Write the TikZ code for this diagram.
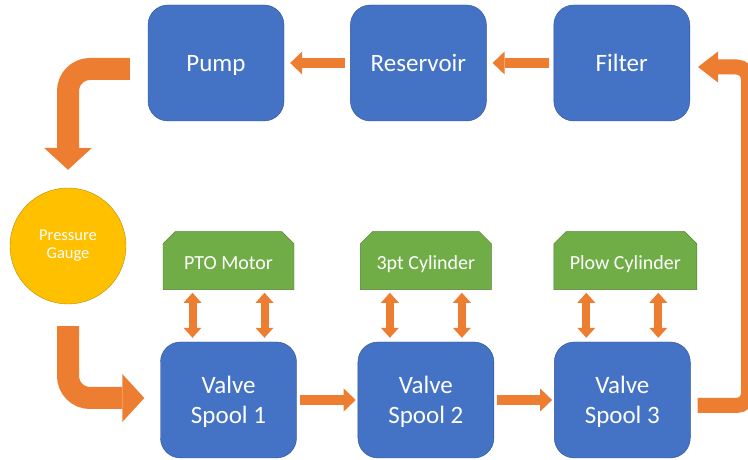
\documentclass[tikz,border=0pt]{standalone}
\usepackage{fontspec}
\setmainfont{Carlito}
\usetikzlibrary{positioning,shapes.misc,arrows.meta}
\definecolor{boxblue}{HTML}{4472C4}
\definecolor{boxblueline}{HTML}{2F528F}
\definecolor{pipeorange}{HTML}{ED7D31}
\definecolor{loadgreen}{HTML}{70AD47}
\definecolor{loadgreenline}{HTML}{507E32}
\definecolor{gaugegold}{HTML}{FFC000}
\definecolor{gaugegoldline}{HTML}{BC8C00}

\begin{document}
\begin{tikzpicture}[x=1pt, y=1pt,
        unit/.style={draw=boxblueline, fill=boxblue, rounded corners=20pt, minimum width=136pt, minimum height=116pt, text=white, align=center, text depth=0pt, font=\fontsize{25}{30}\selectfont},
        load/.style={chamfered rectangle, chamfered rectangle corners={north west,north east}, chamfered rectangle xsep=9pt, draw=loadgreenline, fill=loadgreen, minimum width=131pt, minimum height=58pt, text=white, text height=18pt, text depth=0pt, font=\fontsize{20}{24}\selectfont},
        gauge/.style={circle, draw=gaugegoldline, fill=gaugegold, minimum size=116pt, text=white, align=center, font=\fontsize{16.5}{18}\selectfont},
        flowpipe/.style={draw=pipeorange, line width=10pt, -{Triangle[width=23pt,length=12pt,line width=0pt]}},
        bentpipe/.style={draw=pipeorange, line width=22pt, rounded corners=22pt, -{Triangle[width=48pt,length=22pt,line width=0pt]}},
        returnpipe/.style={draw=pipeorange, line width=15pt, rounded corners=12pt, -{Triangle[width=31pt,length=20pt,line width=0pt]}},
        linkpipe/.style={draw=pipeorange, line width=8pt, {Triangle[width=18pt,length=10pt,line width=0pt]}-{Triangle[width=18pt,length=10pt,line width=0pt]}, shorten <=4pt, shorten >=3pt}]
        \useasboundingbox (0,0) rectangle (748,460);

        \node[unit] (pump) at (216,397) {Pump};
        \node[unit, right=66pt of pump] (reservoir) {Reservoir};
        \node[unit, right=67pt of reservoir] (filter) {Filter};

        \node[gauge] (gauge) at (68,214) {Pressure\\Gauge};

        \node[unit] (vs1) at (228.5,60) {Valve\\Spool 1};
        \node[unit, right=61pt of vs1] (vs2) {Valve\\Spool 2};
        \node[unit, right=60pt of vs2] (vs3) {Valve\\Spool 3};

        \node[load, above=52pt of vs1] (pto) {PTO Motor};
        \node[load, above=52pt of vs2] (cyl) {3pt Cylinder};
        \node[load, minimum width=143pt, above=52pt of vs3, xshift=3pt] (plow) {Plow Cylinder};

        \draw[flowpipe, shorten <=5pt, shorten >=6pt] (reservoir) -- (pump);
        \draw[flowpipe, shorten <=5pt, shorten >=6pt] (filter) -- (reservoir);
        \draw[flowpipe, shorten <=3pt, shorten >=2pt] (vs1) -- (vs2);
        \draw[flowpipe, shorten <=3pt, shorten >=2pt] (vs2) -- (vs3);

        \draw[bentpipe] ([xshift=-18pt,yshift=-6pt]pump.west) -| ([yshift=18pt]gauge.north);
        \draw[bentpipe] ([yshift=-22pt]gauge.south) |- ([xshift=-16pt,yshift=2pt]vs1.west);
        \draw[returnpipe] ([xshift=7pt,yshift=-5.5pt]vs3.east) -- ++(51,0) |- ([xshift=8pt,yshift=-4pt]filter.east);

        \draw[linkpipe] ([xshift=-36pt]vs1.north) -- ([xshift=-36pt]vs1.north |- pto.south);
        \draw[linkpipe] ([xshift=36pt]vs1.north) -- ([xshift=36pt]vs1.north |- pto.south);
        \draw[linkpipe] ([xshift=-36pt]vs2.north) -- ([xshift=-36pt]vs2.north |- cyl.south);
        \draw[linkpipe] ([xshift=36pt]vs2.north) -- ([xshift=36pt]vs2.north |- cyl.south);
        \draw[linkpipe] ([xshift=-36pt]vs3.north) -- ([xshift=-36pt]vs3.north |- plow.south);
        \draw[linkpipe] ([xshift=36pt]vs3.north) -- ([xshift=36pt]vs3.north |- plow.south);
    \end{tikzpicture}
\end{document}
